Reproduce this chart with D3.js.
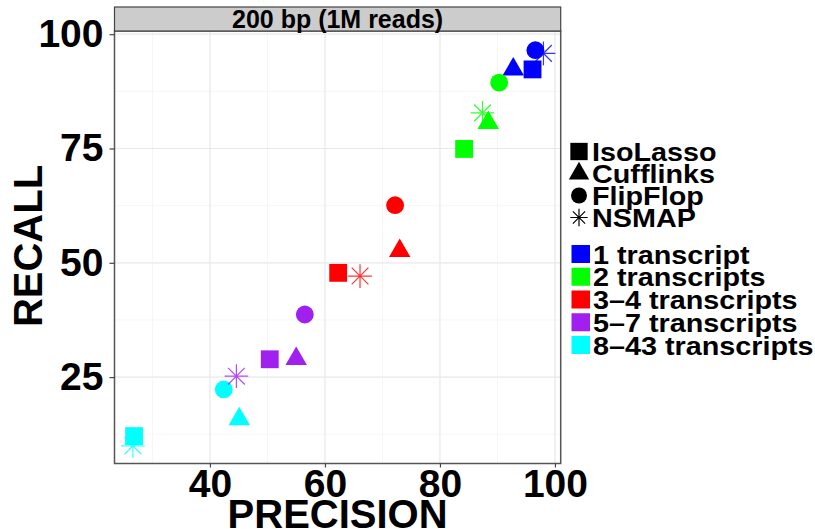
<!DOCTYPE html>
<html>

<head>
    <meta charset="utf-8">
    <title>Precision vs recall, 200 bp</title>
    <style>
        body {
            margin: 0;
            background: #fff;
            font-family: 'Liberation Sans', Arial, Helvetica, sans-serif;
        }

        text {
            font-weight: bold;
            fill: #000;
        }
    </style>
    <script src="https://cdnjs.cloudflare.com/ajax/libs/d3/7.8.5/d3.min.js"></script>
</head>

<body>
    <div id="chart"></div>
    <script>
        // values
        const groups = ['1 transcript', '2 transcripts', '3\u20134 transcripts', '5\u20137 transcripts', '8\u201343 transcripts'];
        const groupColors = ['#0000ff', '#00ff00', '#ff0000', '#a020f0', '#00ffff'];
        const methods = ['IsoLasso', 'Cufflinks', 'FlipFlop', 'NSMAP'];

        const isolassoPrecision = [96.1, 84.2, 62.3, 50.4, 26.8];
        const isolassoRecall = [92.3, 74.9, 47.8, 28.9, 12.1];
        const cufflinksPrecision = [92.75, 88.4, 73.0, 55.0, 45.1];
        const cufflinksRecall = [92.3, 80.6, 52.6, 29.0, 15.8];
        const flipflopPrecision = [96.6, 90.3, 72.2, 56.5, 42.4];
        const flipflopRecall = [96.5, 89.4, 62.6, 38.7, 22.3];
        const nsmapPrecision = [98.0, 87.4, 66.1, 44.6, 26.6];
        const nsmapRecall = [95.8, 82.8, 47.1, 25.2, 9.95];

        const xTicks = [40, 60, 80, 100];
        const yTicks = [25, 50, 75, 100];
        const xMinor = [30, 50, 70, 90];
        const yMinor = [12.5, 37.5, 62.5, 87.5];

        const stripLabel = '200 bp (1M reads)';

        // build rows: one per method / group
        const perMethod = [
            [isolassoPrecision, isolassoRecall],
            [cufflinksPrecision, cufflinksRecall],
            [flipflopPrecision, flipflopRecall],
            [nsmapPrecision, nsmapRecall]
        ];
        const points = [];
        methods.forEach((m, mi) => {
            groups.forEach((g, gi) => {
                points.push({ method: m, group: g, precision: perMethod[mi][0][gi], recall: perMethod[mi][1][gi] });
            });
        });

        const W = 815, H = 529;
        const panel = { left: 114.5, right: 560.7, top: 31, bottom: 463.5 };

        const svg = d3.select('#chart').append('svg')
            .attr('width', W)
            .attr('height', H);

        svg.append('rect').attr('width', W).attr('height', H).attr('fill', '#fff');

        const x = d3.scaleLinear().domain([23.4, 101.0]).range([panel.left, panel.right]);
        const y = d3.scaleLinear().domain([6.1, 100.7]).range([panel.bottom, panel.top]);

        const color = d3.scaleOrdinal().domain(groups).range(groupColors);

        // shapes like ggplot's 15, 17, 16, 8
        const star = {
            draw(ctx, size) {
                const r = Math.sqrt(size) / 2;
                const d = r / Math.SQRT2;
                ctx.moveTo(-r, 0); ctx.lineTo(r, 0);
                ctx.moveTo(0, -r); ctx.lineTo(0, r);
                ctx.moveTo(-d, -d); ctx.lineTo(d, d);
                ctx.moveTo(-d, d); ctx.lineTo(d, -d);
            }
        };
        const shapeType = d3.scaleOrdinal().domain(methods).range([d3.symbolSquare, d3.symbolTriangle, d3.symbolCircle, star]);
        const shapeSize = d3.scaleOrdinal().domain(methods).range([318, 200, 250, 560]);

        // grid
        const grid = svg.append('g');
        grid.selectAll('line.xminor').data(xMinor).join('line')
            .attr('x1', d => x(d)).attr('x2', d => x(d))
            .attr('y1', panel.top).attr('y2', panel.bottom)
            .attr('stroke', '#f4f4f4').attr('stroke-width', 0.8);
        grid.selectAll('line.yminor').data(yMinor).join('line')
            .attr('y1', d => y(d)).attr('y2', d => y(d))
            .attr('x1', panel.left).attr('x2', panel.right)
            .attr('stroke', '#f4f4f4').attr('stroke-width', 0.8);
        grid.selectAll('line.xmajor').data(xTicks).join('line')
            .attr('x1', d => x(d)).attr('x2', d => x(d))
            .attr('y1', panel.top).attr('y2', panel.bottom)
            .attr('stroke', '#e8e8e8').attr('stroke-width', 1.2);
        grid.selectAll('line.ymajor').data(yTicks).join('line')
            .attr('y1', d => y(d)).attr('y2', d => y(d))
            .attr('x1', panel.left).attr('x2', panel.right)
            .attr('stroke', '#e8e8e8').attr('stroke-width', 1.2);

        // points
        const sym = d3.symbol();
        svg.append('g').selectAll('path').data(points).join('path')
            .attr('transform', d => `translate(${x(d.precision)},${y(d.recall)})`)
            .attr('d', d => sym.type(shapeType(d.method)).size(shapeSize(d.method))())
            .attr('fill', d => d.method === 'NSMAP' ? 'none' : color(d.group))
            .attr('stroke', d => d.method === 'NSMAP' ? color(d.group) : 'none')
            .attr('stroke-opacity', 0.8)
            .attr('stroke-width', 1.2);

        // panel border
        svg.append('rect')
            .attr('x', panel.left).attr('y', panel.top)
            .attr('width', panel.right - panel.left).attr('height', panel.bottom - panel.top)
            .attr('fill', 'none').attr('stroke', '#555').attr('stroke-width', 1.5);

        // strip
        svg.append('rect')
            .attr('x', panel.left).attr('y', 7)
            .attr('width', panel.right - panel.left).attr('height', panel.top - 7)
            .attr('fill', '#cccccc').attr('stroke', '#444').attr('stroke-width', 1.2);
        svg.append('text')
            .attr('x', (panel.left + panel.right) / 2).attr('y', 27.5)
            .attr('text-anchor', 'middle')
            .style('font-size', '25px')
            .text(stripLabel);

        // axes
        const xAxis = svg.append('g')
            .attr('transform', `translate(0,${panel.bottom})`)
            .call(d3.axisBottom(x).tickValues(xTicks).tickSize(4).tickPadding(2));
        const yAxis = svg.append('g')
            .attr('transform', `translate(${panel.left},0)`)
            .call(d3.axisLeft(y).tickValues(yTicks).tickSize(5).tickPadding(6));
        [xAxis, yAxis].forEach(a => {
            a.select('.domain').remove();
            a.selectAll('line').attr('stroke', '#444').attr('stroke-width', 1.2);
            a.selectAll('text')
                .attr('fill', '#000')
                .style('font-size', '39px')
                .style('font-family', "'Liberation Sans', Arial, sans-serif")
                .style('font-weight', 'bold');
        });

        svg.append('text')
            .attr('x', (panel.left + panel.right) / 2).attr('y', 528)
            .attr('text-anchor', 'middle')
            .style('font-size', '40px')
            .text('PRECISION');
        svg.append('text')
            .attr('transform', 'translate(42,246) rotate(-90)')
            .attr('text-anchor', 'middle')
            .style('font-size', '40px')
            .text('RECALL');

        // legends
        const shapeLegend = svg.append('g').attr('transform', 'translate(579,151.5)');
        const shapeKeySize = d3.scaleOrdinal().domain(methods).range([300, 180, 200, 300]);
        const sRows = shapeLegend.selectAll('g').data(methods).join('g')
            .attr('transform', (d, i) => `translate(0,${i * 22})`);
        sRows.append('path')
            .attr('d', d => sym.type(shapeType(d)).size(shapeKeySize(d))())
            .attr('fill', d => d === 'NSMAP' ? 'none' : '#000')
            .attr('stroke', d => d === 'NSMAP' ? '#000' : 'none')
            .attr('stroke-width', 1.2);
        sRows.append('text')
            .attr('transform', 'translate(13,9) scale(1.15,1)')
            .style('font-size', '25px')
            .text(d => d);

        const colorLegend = svg.append('g').attr('transform', 'translate(581,254)');
        const cRows = colorLegend.selectAll('g').data(groups).join('g')
            .attr('transform', (d, i) => `translate(0,${i * 22.75})`);
        cRows.append('rect')
            .attr('x', -9.5).attr('y', -9)
            .attr('width', 18.5).attr('height', 18)
            .attr('fill', d => color(d));
        cRows.append('text')
            .attr('transform', 'translate(12,9.5) scale(1.15,1)')
            .style('font-size', '25px')
            .text(d => d);
    </script>
</body>

</html>
